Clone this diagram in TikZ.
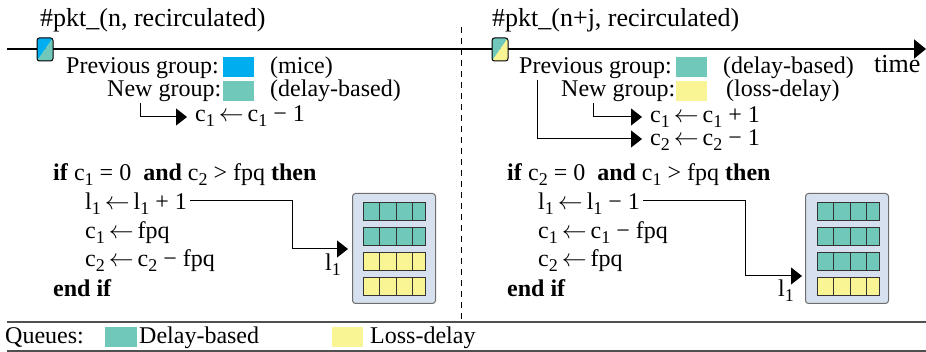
\documentclass[tikz,border=0pt]{standalone}
\usepackage{fontspec}
\setmainfont{Liberation Serif}
\usetikzlibrary{arrows.meta}
\definecolor{micec}{HTML}{00AEEF}
\definecolor{delayc}{HTML}{6FC8BA}
\definecolor{lossc}{HTML}{F9F594}
\definecolor{boxfill}{HTML}{D6E0EF}
\definecolor{boxline}{HTML}{6E6E6E}
\definecolor{rulec}{HTML}{505050}
\newcommand{\sbs}[1]{\raisebox{-0.2em}{\fontsize{18}{20}\selectfont #1}}
\newcommand{\larr}{\,\ensuremath{\leftarrow}\,}
\begin{document}
\begin{tikzpicture}[x=1pt,y=-1pt,
  font=\fontsize{24}{28}\selectfont,
  txt/.style={inner sep=0pt, anchor=base west},
  sq/.style={inner sep=0pt, minimum width=31pt, minimum height=20pt, anchor=north west},
  conn/.style={draw=black, line width=1pt},
  tipconn/.style={conn, -{Triangle[length=11pt,width=17pt]}},
  qbox/.style={draw=boxline, fill=boxfill, line width=1pt, rounded corners=3pt},
  cell/.style={draw=black!80, line width=1pt}
]
\useasboundingbox (0,0) rectangle (926,352);

% timeline and separator
\coordinate (tl0) at (7,49);
\coordinate (tl1) at (926,49);
\draw[line width=2pt, -{Triangle[length=12pt,width=19pt]}] (tl0) -- (tl1);
\coordinate (d0) at (461,27);
\coordinate (d1) at (461,322);
\draw[line width=1pt, dash pattern=on 6pt off 5pt] (d0) -- (d1);

% packet markers
\begin{scope}
  \clip[rounded corners=2.5pt] (37,38) rectangle (53,61);
  \fill[micec] (37,38) -- (53,38) -- (37,61) -- cycle;
  \fill[delayc] (53,38) -- (53,61) -- (37,61) -- cycle;
\end{scope}
\draw[line width=1pt, rounded corners=2.5pt] (37,38) rectangle (53,61);
\begin{scope}
  \clip[rounded corners=2.5pt] (492,38) rectangle (508,61);
  \fill[delayc] (492,38) -- (508,38) -- (492,61) -- cycle;
  \fill[lossc] (508,38) -- (508,61) -- (492,61) -- cycle;
\end{scope}
\draw[line width=1pt, rounded corners=2.5pt] (492,38) rectangle (508,61);

% ---------- left top
\node[txt] (t1) at (40,26.7) {\fontsize{26}{30}\selectfont \#pkt\_(n, recirculated)};
\node[txt] (p1) at (66,74) {Previous group:};
\node[sq, fill=micec] (p1sq) at (223,57) {};
\node[txt] (p1l) at (270,74) {(mice)};
\node[txt] (n1) at (107,96.7) {New group:};
\node[sq, fill=delayc] (n1sq) at (223,81) {};
\node[txt] (n1l) at (270,96.7) {(delay-based)};
\node[txt] (e1) at (195,122) {c\sbs{1}\larr c\sbs{1} − 1};
\coordinate (a1s) at (140,103);
\coordinate (a1e) at (187,117);
\draw[tipconn] (a1s) |- (a1e);

% ---------- right top
\node[txt] (t2) at (492,26.7) {\fontsize{26}{30}\selectfont \#pkt\_(n+j, recirculated)};
\node[txt] (time) at (874,72.7) {\fontsize{26}{30}\selectfont time};
\node[txt] (p2) at (519,73.3) {Previous group:};
\node[sq, fill=delayc] (p2sq) at (676,57) {};
\node[txt] (p2l) at (723,73.3) {(delay-based)};
\node[txt] (n2) at (561,96.7) {New group:};
\node[sq, fill=lossc] (n2sq) at (676,81) {};
\node[txt] (n2l) at (726,96.7) {(loss-delay)};
\node[txt] (e2) at (650,123) {c\sbs{1}\larr c\sbs{1} + 1};
\node[txt] (e3) at (650,145.7) {c\sbs{2}\larr c\sbs{2} − 1};
\coordinate (a2s) at (593,103);
\coordinate (a2e) at (642,117);
\draw[tipconn] (a2s) |- (a2e);
\coordinate (a3s) at (537,80);
\coordinate (a3e) at (642,139);
\draw[tipconn] (a3s) |- (a3e);

% ---------- left bottom
\node[txt] (if1) at (53,180.7) {\textbf{if} c\sbs{1} = 0 \ \textbf{and} c\sbs{2} > fpq \textbf{then}};
\node[txt] (s11) at (85,210) {l\sbs{1}\larr l\sbs{1} + 1};
\node[txt] (s12) at (85,239) {c\sbs{1}\larr fpq};
\node[txt] (s13) at (85,267) {c\sbs{2}\larr c\sbs{2} − fpq};
\node[txt] (ei1) at (53,296.7) {\textbf{end if}};
\node[txt] (lab1) at (325,270.7) {l\sbs{1}};
\coordinate (b1s) at (190,201);
\coordinate (b1m) at (292,201);
\coordinate (b1e) at (348,249);
\draw[tipconn] (b1s) -- (b1m) |- (b1e);
\node[qbox, inner sep=0pt, minimum width=83pt, minimum height=110pt, anchor=north west] (q1) at (352,193) {};
\foreach \y/\c in {203/delayc,228/delayc,253/lossc,278/lossc}{
  \fill[\c] (363,\y) rectangle (425,\y+18);
  \foreach \x in {379.5,396,412}{\draw[cell] (\x,\y) -- (\x,\y+18);}
  \draw[cell] (363,\y) rectangle (425,\y+18);
}

% ---------- right bottom
\node[txt] (if2) at (507,180.7) {\textbf{if} c\sbs{2} = 0 \ \textbf{and} c\sbs{1} > fpq \textbf{then}};
\node[txt] (s21) at (538,210) {l\sbs{1}\larr l\sbs{1} − 1};
\node[txt] (s22) at (538,239) {c\sbs{1}\larr c\sbs{1} − fpq};
\node[txt] (s23) at (538,267) {c\sbs{2}\larr fpq};
\node[txt] (ei2) at (507,296.7) {\textbf{end if}};
\node[txt] (lab2) at (778,296.7) {l\sbs{1}};
\coordinate (b2s) at (643,201);
\coordinate (b2m) at (745,201);
\coordinate (b2e) at (802,276);
\draw[tipconn] (b2s) -- (b2m) |- (b2e);
\node[qbox, inner sep=0pt, minimum width=83pt, minimum height=110pt, anchor=north west] (q2) at (805,193) {};
\foreach \y/\c in {203/delayc,228/delayc,253/delayc,278/lossc}{
  \fill[\c] (817,\y) rectangle (879,\y+18);
  \foreach \x in {833.5,850,866}{\draw[cell] (\x,\y) -- (\x,\y+18);}
  \draw[cell] (817,\y) rectangle (879,\y+18);
}

% ---------- legend
\coordinate (r0a) at (7,322);
\coordinate (r0b) at (926,322);
\coordinate (r1a) at (7,351);
\coordinate (r1b) at (926,351);
\draw[rulec, line width=1.2pt] (r0a) -- (r0b);
\draw[rulec, line width=1.2pt] (r1a) -- (r1b);
\node[txt] (lq) at (5,344) {Queues:};
\node[sq, fill=delayc, minimum width=32pt] (lsq1) at (105,327) {};
\node[txt] (ld) at (139,344) {Delay-based};
\node[sq, fill=lossc] (lsq2) at (332,327) {};
\node[txt] (ll) at (370,344) {Loss-delay};
\end{tikzpicture}
\end{document}
